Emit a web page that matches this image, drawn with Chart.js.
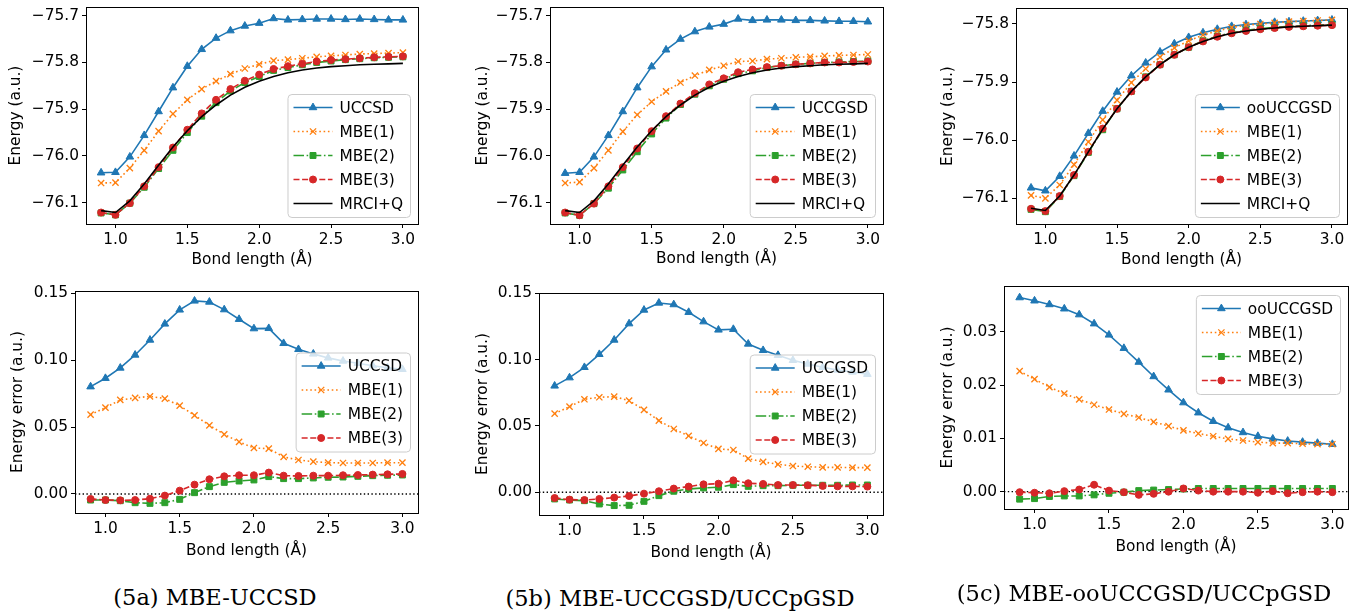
<!DOCTYPE html>
<html>
<head>
<meta charset="utf-8">
<script src="https://cdn.jsdelivr.net/npm/chart.js@4.4.0/dist/chart.umd.min.js"></script>
<style>
  html, body { margin: 0; padding: 0; background: #fff; }
  body { width: 1360px; height: 612px; position: relative; overflow: hidden; }
  .panel { position: absolute; }
  .caption {
    position: absolute; transform: translateX(-50%); white-space: nowrap;
    font-family: 'DejaVu Serif', serif; font-size: 22.5px; line-height: 28px; color: #000;
  }
</style>
</head>
<body>
<div class="panel" id="p-a1"><canvas id="c-a1"></canvas></div>
<div class="panel" id="p-b1"><canvas id="c-b1"></canvas></div>
<div class="panel" id="p-c1"><canvas id="c-c1"></canvas></div>
<div class="panel" id="p-a2"><canvas id="c-a2"></canvas></div>
<div class="panel" id="p-b2"><canvas id="c-b2"></canvas></div>
<div class="panel" id="p-c2"><canvas id="c-c2"></canvas></div>

<div class="caption" style="left:215px; top:583px">(5a) MBE-UCCSD</div>
<div class="caption" style="left:680px; top:584px">(5b) MBE-UCCGSD/UCCpGSD</div>
<div class="caption" style="left:1144px; top:579px">(5c) MBE-ooUCCGSD/UCCpGSD</div>

<script>
/* ── Data ─────────────────────────────────────────────── */
const bondLength = [0.9, 1.0, 1.1, 1.2, 1.3, 1.4, 1.5, 1.6, 1.7, 1.8, 1.9, 2.0, 2.1, 2.2, 2.3, 2.4, 2.5, 2.6, 2.7, 2.8, 2.9, 3.0];

const bondTicks = [1.0, 1.5, 2.0, 2.5, 3.0];
const energyTicksAB = [-76.1, -76.0, -75.9, -75.8, -75.7];
const energyTicksC = [-76.1, -76.0, -75.9, -75.8];
const errorTicksAB = [0.00, 0.05, 0.10, 0.15];
const errorTicksC = [0.00, 0.01, 0.02, 0.03];

const mrciQ = [-76.117, -76.121, -76.096, -76.060, -76.020, -75.981, -75.946, -75.916, -75.891, -75.870, -75.853, -75.840, -75.830, -75.822, -75.816, -75.812, -75.809, -75.807, -75.805, -75.804, -75.803, -75.802];

// (5a) UCCSD
const aUCC  = [-76.036, -76.035, -76.002, -75.956, -75.905, -75.854, -75.808, -75.772, -75.748, -75.732, -75.722, -75.716, -75.706, -75.709, -75.708, -75.707, -75.707, -75.708, -75.707, -75.708, -75.709, -75.709];
const aMBE1 = [-76.058, -76.057, -76.026, -75.988, -75.947, -75.910, -75.880, -75.857, -75.840, -75.825, -75.813, -75.804, -75.796, -75.794, -75.791, -75.788, -75.786, -75.784, -75.782, -75.781, -75.780, -75.779];
const aMBE2 = [-76.122, -76.126, -76.101, -76.067, -76.027, -75.988, -75.950, -75.915, -75.886, -75.861, -75.843, -75.830, -75.817, -75.811, -75.805, -75.800, -75.797, -75.794, -75.792, -75.790, -75.789, -75.788];
const aMBE3 = [-76.121, -76.126, -76.101, -76.065, -76.024, -75.982, -75.944, -75.909, -75.880, -75.857, -75.839, -75.826, -75.814, -75.808, -75.803, -75.798, -75.795, -75.793, -75.791, -75.789, -75.788, -75.787];
const aErrUCC  = [0.0802, 0.0865, 0.0942, 0.1039, 0.1151, 0.1271, 0.1376, 0.1443, 0.1435, 0.1378, 0.1306, 0.1236, 0.1238, 0.1126, 0.1081, 0.1047, 0.1017, 0.0994, 0.0977, 0.0959, 0.0944, 0.0932];
const aErrMBE1 = [0.0593, 0.0645, 0.0703, 0.0718, 0.0730, 0.0713, 0.0660, 0.0588, 0.0513, 0.0446, 0.0389, 0.0344, 0.0339, 0.0277, 0.0254, 0.0242, 0.0234, 0.0232, 0.0232, 0.0232, 0.0234, 0.0234];
const aErrMBE2 = [-0.0045, -0.0045, -0.0050, -0.0065, -0.0070, -0.0065, -0.0040, 0.0010, 0.0055, 0.0087, 0.0097, 0.0105, 0.0130, 0.0115, 0.0115, 0.0120, 0.0125, 0.0127, 0.0132, 0.0137, 0.0140, 0.0142];
const aErrMBE3 = [-0.0037, -0.0045, -0.0047, -0.0045, -0.0035, -0.0012, 0.0025, 0.0070, 0.0110, 0.0132, 0.0140, 0.0140, 0.0160, 0.0137, 0.0135, 0.0137, 0.0137, 0.0140, 0.0142, 0.0145, 0.0147, 0.0150];

// (5b) UCCGSD / UCCpGSD
const bUCC  = [-76.037, -76.035, -76.002, -75.956, -75.905, -75.854, -75.809, -75.773, -75.750, -75.734, -75.724, -75.718, -75.707, -75.710, -75.709, -75.709, -75.710, -75.710, -75.711, -75.712, -75.712, -75.713];
const bMBE1 = [-76.058, -76.056, -76.026, -75.988, -75.948, -75.912, -75.884, -75.862, -75.843, -75.828, -75.816, -75.807, -75.798, -75.797, -75.793, -75.791, -75.789, -75.788, -75.786, -75.785, -75.784, -75.783];
const bMBE2 = [-76.122, -76.127, -76.102, -76.069, -76.030, -75.991, -75.953, -75.919, -75.890, -75.868, -75.850, -75.836, -75.824, -75.818, -75.811, -75.807, -75.804, -75.802, -75.800, -75.799, -75.798, -75.797];
const bMBE3 = [-76.121, -76.127, -76.102, -76.065, -76.024, -75.984, -75.947, -75.915, -75.888, -75.866, -75.847, -75.834, -75.821, -75.815, -75.810, -75.807, -75.804, -75.802, -75.800, -75.800, -75.799, -75.798];
const bErrUCC  = [0.0802, 0.0864, 0.0942, 0.1040, 0.1148, 0.1271, 0.1374, 0.1427, 0.1415, 0.1357, 0.1286, 0.1224, 0.1229, 0.1118, 0.1070, 0.1033, 0.0995, 0.0967, 0.0942, 0.0922, 0.0907, 0.0890];
const bErrMBE1 = [0.0593, 0.0646, 0.0701, 0.0716, 0.0721, 0.0691, 0.0621, 0.0540, 0.0477, 0.0425, 0.0372, 0.0327, 0.0319, 0.0254, 0.0229, 0.0211, 0.0198, 0.0193, 0.0188, 0.0188, 0.0186, 0.0186];
const bErrMBE2 = [-0.0050, -0.0058, -0.0063, -0.0088, -0.0100, -0.0098, -0.0068, -0.0025, 0.0008, 0.0025, 0.0033, 0.0038, 0.0058, 0.0045, 0.0050, 0.0050, 0.0053, 0.0053, 0.0053, 0.0053, 0.0055, 0.0055];
const bErrMBE3 = [-0.0043, -0.0055, -0.0058, -0.0050, -0.0040, -0.0028, -0.0010, 0.0008, 0.0028, 0.0043, 0.0060, 0.0065, 0.0090, 0.0068, 0.0063, 0.0055, 0.0055, 0.0053, 0.0048, 0.0045, 0.0045, 0.0043];

// (5c) ooUCCGSD / UCCpGSD
const cUCC  = [-76.082, -76.087, -76.062, -76.027, -75.988, -75.950, -75.917, -75.889, -75.867, -75.848, -75.834, -75.823, -75.815, -75.809, -75.804, -75.801, -75.799, -75.797, -75.796, -75.795, -75.794, -75.793];
const cMBE1 = [-76.095, -76.100, -76.077, -76.042, -76.003, -75.965, -75.931, -75.901, -75.877, -75.857, -75.841, -75.829, -75.819, -75.812, -75.806, -75.802, -75.800, -75.798, -75.796, -75.795, -75.794, -75.793];
const cMBE2 = [-76.119, -76.123, -76.097, -76.061, -76.021, -75.982, -75.946, -75.916, -75.891, -75.870, -75.853, -75.840, -75.829, -75.821, -75.815, -75.811, -75.808, -75.806, -75.804, -75.803, -75.802, -75.801];
const cMBE3 = [-76.118, -76.122, -76.096, -76.060, -76.020, -75.980, -75.946, -75.916, -75.892, -75.870, -75.853, -75.840, -75.830, -75.822, -75.816, -75.812, -75.809, -75.807, -75.805, -75.804, -75.803, -75.802];
const cErrUCC  = [0.0364, 0.0358, 0.0351, 0.0343, 0.0332, 0.0315, 0.0294, 0.0269, 0.0243, 0.0216, 0.0191, 0.0167, 0.0148, 0.0132, 0.0120, 0.0111, 0.0104, 0.0099, 0.0095, 0.0093, 0.0091, 0.0089];
const cErrMBE1 = [0.0226, 0.0211, 0.0196, 0.0184, 0.0173, 0.0163, 0.0154, 0.0146, 0.0139, 0.0131, 0.0123, 0.0115, 0.0109, 0.0104, 0.0099, 0.0096, 0.0093, 0.0091, 0.0091, 0.0090, 0.0089, 0.0089];
const cErrMBE2 = [-0.0014, -0.0013, -0.0009, -0.0008, -0.0008, -0.0006, -0.0003, -0.0001, 0.0002, 0.0003, 0.0004, 0.0005, 0.0006, 0.0006, 0.0006, 0.0006, 0.0006, 0.0006, 0.0006, 0.0006, 0.0006, 0.0006];
const cErrMBE3 = [-0.0001, -0.0002, -0.0003, 0.0001, 0.0004, 0.0013, 0.0002, -0.0001, -0.0006, -0.0004, 0.0000, 0.0006, 0.0002, 0.0000, 0.0000, 0.0000, -0.0002, 0.0001, -0.0003, -0.0001, 0.0000, -0.0001];

/* ── Styles (matplotlib look) ─────────────────────────── */
const FONT = "'DejaVu Sans', sans-serif";
const FS = 15.4;
const LW = 1.6;
const STYLE = {
  ucc:  { color: '#1f77b4', dash: [],                    point: 'triangle', r: 4.4 },
  mbe1: { color: '#ff7f0e', dash: [1.6, 2.7],            point: 'crossRot', r: 4.4 },
  mbe2: { color: '#2ca02c', dash: [10.5, 2.6, 1.6, 2.6], point: 'rect',     r: 4.2 },
  mbe3: { color: '#d62728', dash: [6, 2.6],              point: 'circle',   r: 3.5 },
  mrci: { color: '#000000', dash: [],                    point: null,       r: 0 },
};

function series(label, values, style, i) {
  return {
    label,
    data: bondLength.map((x, k) => ({ x, y: values[k] })),
    borderColor: style.color,
    backgroundColor: style.color,
    borderWidth: LW,
    borderDash: style.dash,
    pointStyle: style.point || 'circle',
    pointRadius: style.r,
    pointBorderWidth: style.point === 'crossRot' ? 1.3 : 1,
    tension: 0,
    order: 10 - i,
    _mk: style,
  };
}

/* ── Markers for legend ───────────────────────────────── */
function drawMarker(ctx, s, x, y) {
  if (!s.point) return;
  const r = s.r;
  ctx.save();
  ctx.setLineDash([]);
  ctx.fillStyle = s.color;
  ctx.strokeStyle = s.color;
  ctx.lineWidth = s.point === 'crossRot' ? 1.3 : 1;
  ctx.beginPath();
  if (s.point === 'triangle') {
    ctx.moveTo(x, y - r);
    ctx.lineTo(x + r * 0.866, y + r * 0.5);
    ctx.lineTo(x - r * 0.866, y + r * 0.5);
    ctx.closePath();
    ctx.fill(); ctx.stroke();
  } else if (s.point === 'crossRot') {
    const c = r * Math.SQRT1_2;
    ctx.moveTo(x - c, y - c); ctx.lineTo(x + c, y + c);
    ctx.moveTo(x - c, y + c); ctx.lineTo(x + c, y - c);
    ctx.stroke();
  } else if (s.point === 'rect') {
    const h = r * Math.SQRT1_2;
    ctx.rect(x - h, y - h, 2 * h, 2 * h);
    ctx.fill(); ctx.stroke();
  } else {
    ctx.arc(x, y, r, 0, Math.PI * 2);
    ctx.fill(); ctx.stroke();
  }
  ctx.restore();
}

/* ── Plugin: frame, zero line, legend ─────────────────── */
const mplDecor = {
  id: 'mplDecor',
  beforeDatasetsDraw(chart, args, opts) {
    if (!opts.zeroLine) return;
    const { ctx, chartArea: a } = chart;
    const y0 = chart.scales.y.getPixelForValue(0);
    ctx.save();
    ctx.strokeStyle = '#000';
    ctx.lineWidth = 1.4;
    ctx.setLineDash([1.4, 2.4]);
    ctx.beginPath();
    ctx.moveTo(a.left, y0);
    ctx.lineTo(a.right, y0);
    ctx.stroke();
    ctx.restore();
  },
  afterDraw(chart, args, opts) {
    const { ctx, chartArea: a } = chart;
    ctx.save();
    ctx.strokeStyle = '#000';
    ctx.lineWidth = 1;
    ctx.strokeRect(Math.round(a.left) + 0.5, Math.round(a.top) + 0.5,
                   Math.round(a.right - a.left), Math.round(a.bottom - a.top));

    // legend box
    const items = chart.data.datasets;
    ctx.font = `${FS}px ${FONT}`;
    const tw = Math.max(...items.map(d => ctx.measureText(d.label).width));
    const w = 52 + tw + 7;
    const h = 27 + (items.length - 1) * 24;
    const x = a.right - 8 - w;
    let y;
    if (opts.legend === 'lower right') y = a.bottom - 7 - h;
    else if (opts.legend === 'center right') y = (a.top + a.bottom) / 2 - h / 2;
    else y = a.top + 9;

    ctx.beginPath();
    ctx.roundRect(x + 0.5, y + 0.5, w, h, 4);
    ctx.fillStyle = 'rgba(255,255,255,0.8)';
    ctx.fill();
    ctx.strokeStyle = '#cccccc';
    ctx.stroke();

    items.forEach((d, i) => {
      const cy = y + 13.5 + i * 24;
      ctx.strokeStyle = d.borderColor;
      ctx.lineWidth = LW;
      ctx.setLineDash(d.borderDash);
      ctx.beginPath();
      ctx.moveTo(x + 6, cy);
      ctx.lineTo(x + 45, cy);
      ctx.stroke();
      drawMarker(ctx, d._mk, x + 25.5, cy);
      ctx.setLineDash([]);
      ctx.fillStyle = '#000';
      ctx.textBaseline = 'middle';
      ctx.textAlign = 'left';
      ctx.fillText(d.label, x + 52, cy + 1);
    });
    ctx.restore();
  },
};

/* ── Panels ───────────────────────────────────────────── */
const fmtEnergy = v => v.toFixed(1).replace('-', '\u2212');
const fmtError = v => v.toFixed(2);

const panels = [
  { id: 'a1', frame: [86, 7, 418, 224], titleX: 16, gapX: 36, yMin: -76.1456, yMax: -75.6814,
    yTicks: energyTicksAB, fmt: fmtEnergy, yTitle: 'Energy (a.u.)', legend: 'lower right',
    sets: [['UCCSD', aUCC, STYLE.ucc], ['MBE(1)', aMBE1, STYLE.mbe1], ['MBE(2)', aMBE2, STYLE.mbe2], ['MBE(3)', aMBE3, STYLE.mbe3], ['MRCI+Q', mrciQ, STYLE.mrci]] },
  { id: 'b1', frame: [550, 7, 883, 224], titleX: 483, gapX: 35, yMin: -76.1456, yMax: -75.6814,
    yTicks: energyTicksAB, fmt: fmtEnergy, yTitle: 'Energy (a.u.)', legend: 'lower right',
    sets: [['UCCGSD', bUCC, STYLE.ucc], ['MBE(1)', bMBE1, STYLE.mbe1], ['MBE(2)', bMBE2, STYLE.mbe2], ['MBE(3)', bMBE3, STYLE.mbe3], ['MRCI+Q', mrciQ, STYLE.mrci]] },
  { id: 'c1', frame: [1016, 8, 1347, 224], titleX: 948, gapX: 36, yMin: -76.1442, yMax: -75.7725,
    yTicks: energyTicksC, fmt: fmtEnergy, yTitle: 'Energy (a.u.)', legend: 'lower right',
    sets: [['ooUCCGSD', cUCC, STYLE.ucc], ['MBE(1)', cMBE1, STYLE.mbe1], ['MBE(2)', cMBE2, STYLE.mbe2], ['MBE(3)', cMBE3, STYLE.mbe3], ['MRCI+Q', mrciQ, STYLE.mrci]] },
  { id: 'a2', frame: [75, 291, 418, 513], titleX: 18, gapX: 38, yMin: -0.0142, yMax: 0.1517,
    yTicks: errorTicksAB, fmt: fmtError, yTitle: 'Energy error (a.u.)', legend: 'center right', zero: true,
    sets: [['UCCSD', aErrUCC, STYLE.ucc], ['MBE(1)', aErrMBE1, STYLE.mbe1], ['MBE(2)', aErrMBE2, STYLE.mbe2], ['MBE(3)', aErrMBE3, STYLE.mbe3]] },
  { id: 'b2', frame: [539, 293, 883, 515], titleX: 483, gapX: 38, yMin: -0.0171, yMax: 0.1502,
    yTicks: errorTicksAB, fmt: fmtError, yTitle: 'Energy error (a.u.)', legend: 'center right', zero: true,
    sets: [['UCCGSD', bErrUCC, STYLE.ucc], ['MBE(1)', bErrMBE1, STYLE.mbe1], ['MBE(2)', bErrMBE2, STYLE.mbe2], ['MBE(3)', bErrMBE3, STYLE.mbe3]] },
  { id: 'c2', frame: [1004, 286, 1348, 509], titleX: 948, gapX: 38, yMin: -0.00325, yMax: 0.03857,
    yTicks: errorTicksC, fmt: fmtError, yTitle: 'Energy error (a.u.)', legend: 'upper right', zero: true,
    sets: [['ooUCCGSD', cErrUCC, STYLE.ucc], ['MBE(1)', cErrMBE1, STYLE.mbe1], ['MBE(2)', cErrMBE2, STYLE.mbe2], ['MBE(3)', cErrMBE3, STYLE.mbe3]] },
];

Chart.defaults.font.family = FONT;
Chart.defaults.color = '#000';

const PAD_TOP = 13, PAD_RIGHT = 8;

panels.forEach(p => {
  const [l, t, r, b] = p.frame;
  const left = p.titleX - 13;
  const top = t - PAD_TOP;
  const yW = l - left;
  const xH = p.gapX + 13;
  const W = r + PAD_RIGHT - left;
  const H = b + xH + 1 - top;

  const box = document.getElementById('p-' + p.id);
  box.style.left = left + 'px';
  box.style.top = top + 'px';
  const cv = document.getElementById('c-' + p.id);
  cv.width = W; cv.height = H;
  cv.style.width = W + 'px'; cv.style.height = H + 'px';

  const tickGrid = { display: true, drawOnChartArea: false, drawTicks: true, tickLength: 4, color: '#000', lineWidth: 1 };

  new Chart(cv, {
    type: 'line',
    data: { datasets: p.sets.map((s, i) => series(s[0], s[1], s[2], i)) },
    options: {
      responsive: false,
      animation: false,
      devicePixelRatio: 1,
      layout: { padding: { left: 0, top: PAD_TOP, right: PAD_RIGHT, bottom: 1 } },
      plugins: {
        legend: { display: false },
        tooltip: { enabled: false },
        mplDecor: { legend: p.legend, zeroLine: !!p.zero },
      },
      scales: {
        x: {
          type: 'linear', min: 0.795, max: 3.105,
          afterBuildTicks: s => { s.ticks = bondTicks.map(v => ({ value: v })); },
          afterFit: s => { s.height = xH; },
          ticks: { callback: v => v.toFixed(1), font: { size: FS }, color: '#000', padding: 3, autoSkip: false, maxRotation: 0 },
          grid: tickGrid,
          border: { display: false },
          title: { display: true, text: 'Bond length (Å)', font: { size: FS }, color: '#000' },
        },
        y: {
          type: 'linear', min: p.yMin, max: p.yMax,
          afterBuildTicks: s => { s.ticks = p.yTicks.map(v => ({ value: v })); },
          afterFit: s => { s.width = yW; },
          ticks: { callback: v => p.fmt(v), font: { size: FS }, color: '#000', padding: 3, autoSkip: false },
          grid: tickGrid,
          border: { display: false },
          title: { display: true, text: p.yTitle, font: { size: FS }, color: '#000' },
        },
      },
    },
    plugins: [mplDecor],
  });
});
</script>
</body>
</html>
